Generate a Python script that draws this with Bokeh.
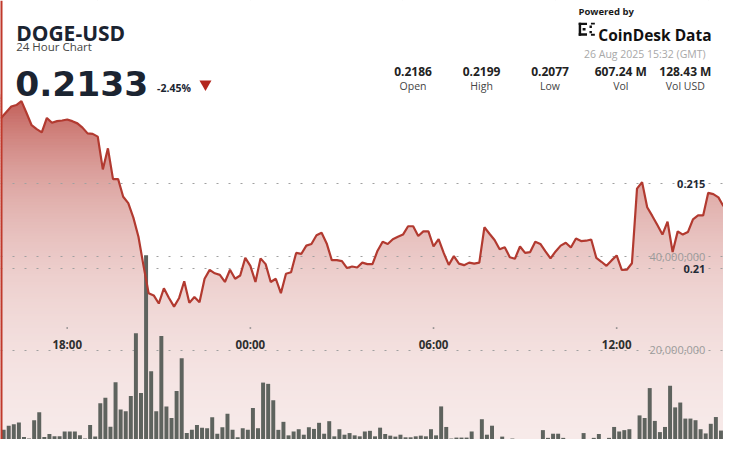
import numpy as np
from bokeh.plotting import figure
from bokeh.models import Range1d, Label, Span
from bokeh.core.properties import value
from bokeh.embed import file_html
from bokeh.resources import INLINE

# ---------------- data ----------------
symbol = "DOGE-USD"
subtitle = "24 Hour Chart"
last_price = "0.2133"
change_pct = "-2.45%"
stamp = "26 Aug 2025 15:32 (GMT)"
stat_values = ["0.2186", "0.2199", "0.2077", "607.24 M", "128.43 M"]
stat_names = ["Open", "High", "Low", "Vol", "Vol USD"]

start_hour = -(8 + 10 / 60)   # 15:50 of the previous day (hours relative to 00:00)
step_hours = 10 / 60          # 10-minute samples

price = [
    0.21888, 0.21922, 0.21955, 0.21964, 0.21987, 0.21917, 0.21845, 0.21822, 0.21803, 0.21888,
    0.21860, 0.21869, 0.21873, 0.21879, 0.21869, 0.21856, 0.21831, 0.21797, 0.21794, 0.21778,
    0.21585, 0.21709, 0.21528, 0.21528, 0.21424, 0.21386, 0.21301, 0.21188, 0.21017, 0.20856,
    0.20843, 0.20795, 0.20885, 0.20828, 0.20777, 0.20828, 0.20926,
    0.20799, 0.20834, 0.20803, 0.20941, 0.20993, 0.20973, 0.20964, 0.20922, 0.20994, 0.20941,
    0.20960, 0.21064, 0.21017, 0.20922, 0.21061, 0.21027, 0.20922, 0.20941, 0.20856, 0.20970,
    0.20979, 0.21093, 0.21087, 0.21136, 0.21146, 0.21197, 0.21212, 0.21149, 0.21051, 0.21051,
    0.21045, 0.21004, 0.21013, 0.21007, 0.21036, 0.21027,
    0.21027, 0.21106, 0.21159, 0.21146, 0.21174, 0.21188, 0.21201, 0.21250, 0.21250, 0.21193,
    0.21220, 0.21220, 0.21131, 0.21174, 0.21093, 0.21023, 0.21074, 0.21030, 0.21021, 0.21036,
    0.21030, 0.21036, 0.21244, 0.21206, 0.21169, 0.21115, 0.21127, 0.21068, 0.21059, 0.21131,
    0.21093, 0.21098, 0.21159, 0.21146, 0.21102,
    0.21061, 0.21102, 0.21136, 0.21153, 0.21125, 0.21178, 0.21163, 0.21165, 0.21172, 0.21064,
    0.21041, 0.21017, 0.21049, 0.21078, 0.20993, 0.20994, 0.21032, 0.21472, 0.21510, 0.21362,
    0.21311, 0.21257, 0.21201, 0.21277, 0.21098, 0.21220, 0.21201, 0.21216, 0.21291, 0.21314,
    0.21314, 0.21447, 0.21439, 0.21420, 0.21368,
]

volume_m = [
    2.88, 3.77, 4.06, 4.47, 1.37, 1.01, 4.95, 6.67, 1.37, 1.99,
    1.49, 1.49, 2.53, 2.53, 2.53, 1.70, 1.01, 3.91, 1.43, 8.61,
    9.77, 3.56, 13.08, 7.23, 6.87, 10.12, 23.58, 10.81, 40.35, 15.44,
    6.87, 23.02, 7.91, 5.42, 11.22, 18.26, 2.19, 2.88, 3.91, 3.35,
    3.23, 5.57, 2.05, 3.44, 6.34, 2.88, 1.28, 3.23, 2.88, 7.58,
    3.23, 13.02, 12.75, 9.23, 2.88, 4.60, 1.70, 2.53, 3.02, 1.84,
    3.44, 3.08, 4.39, 2.05, 4.74, 1.49, 3.02, 1.84, 2.19, 1.70,
    1.49,
    2.53, 2.67, 1.49, 3.35, 1.99, 1.64, 1.43, 1.84, 1.28, 1.28,
    1.49, 1.64, 1.49, 3.02, 1.70, 7.91, 3.50, 1.01, 1.22, 1.22,
    1.22, 2.53, 0.70, 5.16, 1.84, 3.77, 0.70, 1.43, 0.81, 1.01,
    0.81, 0.81, 0.81, 0.81, 0.81, 2.82, 1.16, 2.05, 2.05, 1.16,
    0.81, 0.81, 0.81, 2.19, 0.81, 1.16, 1.99, 0.81, 1.16, 3.50,
    2.53, 2.82, 3.02, 0.81, 5.98, 5.42, 11.84, 4.80, 2.40, 3.50,
    12.34, 7.70, 8.74, 5.30, 5.30, 4.95, 3.02, 2.11, 4.18, 5.63,
    2.73, 2.53,
]

time_ticks = [-6, 0, 6, 12]
time_tick_labels = ["18:00", "00:00", "06:00", "12:00"]
price_ticks = [0.21, 0.215]
price_tick_labels = ["0.21", "0.215"]
vol_ticks = [20e6, 40e6]
vol_tick_labels = ["20,000,000", "40,000,000"]

# ---------------- layout ----------------
W, H = 723, 439
REF_W, REF_H = 739.0, 455.0
X0, X1 = -8.186, 15.5
P_TOP, P_BOT = 0.225796, 0.199943
V_BOT, V_TOP = 0.81e6, 95.0e6


def dx(px):
    return X0 + px / REF_W * (X1 - X0)


def dy(py):
    return P_TOP - py / REF_H * (P_TOP - P_BOT)


t = start_hour + np.arange(len(price)) * step_hours
pr = np.array(price)
vol = np.array(volume_m) * 1e6
t_bar = start_hour + np.arange(len(volume_m)) * step_hours + 5 / 60

p = figure(width=W, height=H, x_range=Range1d(X0, X1), y_range=Range1d(P_BOT, P_TOP),
           output_backend="svg", toolbar_location=None, tools="",
           x_axis_location=None, y_axis_location=None, min_border=0)
p.extra_y_ranges = {"vol": Range1d(V_BOT, V_TOP)}
p.outline_line_color = None
p.background_fill_color = "white"
p.border_fill_color = "white"

# gradient under the price line: horizontal colour bands, then white mask above the line
levels = np.linspace(P_BOT, pr.max() + 0.0003, 121)
lo = levels[:-1]
hi = levels[1:]
colors = []
base = (180, 58, 50)
for a_lo, a_hi in zip(lo, hi):
    mid = 0.5 * (a_lo + a_hi)
    ypix = (P_TOP - mid) / (P_TOP - P_BOT) * REF_H
    a = 0.05 + 0.75 * np.exp(-0.0075 * max(ypix - 105, 0))
    c = [int(round(255 - a * (255 - b))) for b in base]
    colors.append("#%02x%02x%02x" % tuple(c))
p.quad(left=X0, right=X1, bottom=lo, top=hi + (hi - lo) * 0.6, fill_color=colors, line_color=None)
p.varea(x=t, y1=pr, y2=P_TOP, fill_color="white")

# grid lines
p.hspan(y=price_ticks, line_color="#a0a0a0", line_dash="2 10", line_width=1.2)
p.hspan(y=vol_ticks, y_range_name="vol", line_color="#a0a0a0", line_dash="2 10", line_width=1.2)

# volume bars
p.vbar(x=t_bar, top=vol, bottom=0, width=step_hours * 0.78, y_range_name="vol",
       fill_color="#5e635e", line_color=None)

# price line
p.line(t, pr, line_color="#b23a30", line_width=2.2)

# left red border
p.add_layout(Span(location=X0, dimension="height", line_color="#c0392b", line_width=4))

# axis-like labels
p.text(x=[dx(720.5)] * 2, y=price_ticks, text=price_tick_labels, text_align="right",
       text_baseline="middle", text_font=value("Open Sans"), text_font_style="bold",
       text_font_size="11px", text_color="#1f2a36")
p.text(x=[dx(720.5)] * 2, y=vol_ticks, y_range_name="vol", text=vol_tick_labels,
       text_align="right", text_baseline="middle", text_font=value("Open Sans"),
       text_font_size="11px", text_color="#9a9a9a")
p.text(x=time_ticks, y=[dy(357.0)] * len(time_ticks), text=time_tick_labels, text_align="center",
       text_baseline="middle", text_font=value("Open Sans"), text_font_style="bold",
       text_font_size="11.5px", text_color="#2e2e2e")
p.scatter(x=time_ticks, y=[dy(339.5)] * len(time_ticks), marker="square", size=1.6,
          fill_color="#888888", line_color=None)


def lab(px, py, text, size, color, bold=False, align="left", baseline="alphabetic",
        font="Open Sans"):
    p.add_layout(Label(x=dx(px), y=dy(py), text=text, text_font=font,
                       text_font_size=f"{size}px", text_color=color,
                       text_font_style="bold" if bold else "normal",
                       text_align=align, text_baseline=baseline))


# header left
lab(16, 33.3, symbol, 21, "#1b2431", bold=True)
lab(16, 47.3, subtitle, 11.5, "#454545")
lab(15, 86, last_price, 34.5, "#1b2431", bold=True, font="DejaVu Sans")
lab(160, 90.5, change_pct, 10.5, "#1b2431", bold=True)
p.scatter(x=[dx(209.5)], y=[dy(86.5)], marker="inverted_triangle", size=12,
          fill_color="#b3261e", line_color=None)

# header right
lab(590.7, 11.4, "Powered by", 9.5, "#1b1b1b", bold=True)
logo_l = [591, 591, 591, 595, 602, 602, 603.5, 603.5]
logo_r = [593.5, 599.5, 599.5, 598, 604.5, 604.5, 607.5, 607.5]
logo_t = [23, 23, 34, 28.5, 26, 31.5, 23, 34.5]
logo_b = [36.5, 25.5, 36.5, 31, 28.5, 34, 25, 36.5]
p.quad(left=[dx(v) for v in logo_l], right=[dx(v) for v in logo_r],
       top=[dy(v) for v in logo_t], bottom=[dy(v) for v in logo_b],
       fill_color="#111111", line_color=None)
lab(611, 36, "CoinDesk Data", 15.5, "#111111", bold=True)
lab(720.7, 55, stamp, 10.5, "#a8a8a8", align="right")

stat_x = [421.7, 491.7, 561.7, 634, 700]
for sx, sv, sn in zip(stat_x, stat_values, stat_names):
    lab(sx, 74, sv, 12, "#222222", bold=True, align="center")
    lab(sx, 88.3, sn, 10.5, "#444444", align="center")

open("out.html", "w").write(file_html(p, INLINE))
